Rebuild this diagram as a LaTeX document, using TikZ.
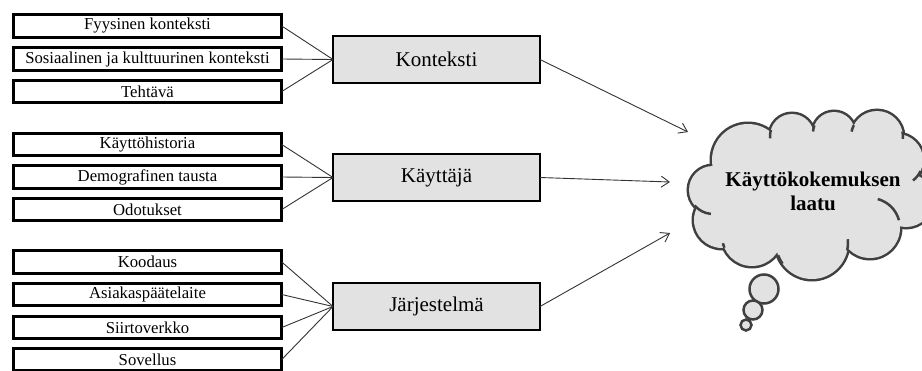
\documentclass[tikz,border=0pt]{standalone}
\usepackage{fontspec}
\setmainfont{Liberation Serif}
\usetikzlibrary{arrows.meta}
\definecolor{boxgrey}{HTML}{E2E2E2}
\definecolor{cloudgrey}{HTML}{E2E2E2}
\definecolor{cloudline}{HTML}{404040}
\definecolor{linkgrey}{HTML}{333333}
\begin{document}
\begin{tikzpicture}[x=1pt,y=-1pt,
  factor/.style={draw=black, line width=2.8pt, fill=white, minimum width=268.5pt,
    minimum height=22.5pt, inner sep=0pt, outer sep=0pt,
    font=\fontsize{16.7}{18}\selectfont},
  groupbox/.style={draw=black, line width=2.8pt, fill=boxgrey, minimum width=207pt,
    minimum height=47pt, inner sep=0pt, outer sep=0pt,
    font=\fontsize{21}{24}\selectfont},
  link/.style={draw=linkgrey, line width=0.9pt},
  flow/.style={draw=linkgrey, line width=0.9pt, -{Straight Barb[length=8pt,width=11pt]}},
  puffline/.style={draw=cloudline, line width=5pt},
  ink/.style={draw=cloudline, line width=2.5pt},
  bubble/.style={draw=cloudline, line width=2.5pt, fill=cloudgrey}
]
\useasboundingbox (0,0) rectangle (922,370);
\clip (0,0) rectangle (922,370);

% factor boxes, context group
\node[factor] (f1) at (147.5,26)   {Fyysinen konteksti};
\node[factor] (f2) at (147.5,59)   {Sosiaalinen ja kulttuurinen konteksti};
\node[factor] (f3) at (147.5,91.5) {Tehtävä};
% factor boxes, user group
\node[factor] (u1) at (147.5,144.5) {Käyttöhistoria};
\node[factor] (u2) at (147.5,177)   {Demografinen tausta};
\node[factor] (u3) at (147.5,209.5) {Odotukset};
% factor boxes, system group
\node[factor] (s1) at (147.5,262)   {Koodaus};
\node[factor] (s2) at (147.5,294.5) {Asiakaspäätelaite};
\node[factor] (s3) at (147.5,327.5) {Siirtoverkko};
\node[factor] (s4) at (147.5,359.5) {Sovellus};

% group boxes
\node[groupbox] (k)  at (436.5,59.5)  {Konteksti};
\node[groupbox] (kj) at (436.5,177.5) {Käyttäjä};
\node[groupbox] (j)  at (436.5,306.5) {Järjestelmä};

% factors to groups
\foreach \a in {f1,f2,f3} \draw[link] (\a.east) -- (k.west);
\foreach \a in {u1,u2,u3} \draw[link] (\a.east) -- (kj.west);
\foreach \a in {s1,s2,s3,s4} \draw[link] (\a.east) -- (j.west);

% thought cloud: stroke all puffs, then cover the inner halves with the fill
\def\puffs{713/190/24, 722/220/28, 752/236/30, 812/243/36, 870/228/30,
  906/200/27, 897/160/26, 877/137/26, 834/133/21, 792/136/22, 748/160/36}
\foreach \cx/\cy/\r in \puffs \draw[puffline] (\cx,\cy) circle[radius=\r];
\foreach \cx/\cy/\r in \puffs \fill[cloudgrey] (\cx,\cy) circle[radius=\r];
\fill[cloudgrey] (713,190) -- (722,220) -- (752,236) -- (812,243) -- (870,228)
  -- (906,200) -- (897,160) -- (877,137) -- (834,133) -- (792,136) -- (748,160) -- cycle;
% inner folds of the cloud
\draw[ink] (713,190) ++(140:24) arc[start angle=140, end angle=95, radius=24];
\draw[ink] (870,228) ++(-75:30) arc[start angle=-75, end angle=-15, radius=30];
\draw[ink] (897,160) ++(52:26) arc[start angle=52, end angle=25, radius=26];
\draw[ink] (792,136) ++(196:22) arc[start angle=196, end angle=174, radius=22];
\draw[ink] (834,133) ++(201:21) arc[start angle=201, end angle=184, radius=21];
\draw[ink] (877,137) ++(207:26) arc[start angle=207, end angle=192, radius=26];
\draw[ink] (877,137) ++(-12:26) arc[start angle=-12, end angle=4, radius=26];
\draw[ink] (812,243) ++(12:36) arc[start angle=12, end angle=-6, radius=36];
\draw[ink] (812,243) ++(145:36) arc[start angle=145, end angle=160, radius=36];
\draw[ink] (752,236) ++(157:30) arc[start angle=157, end angle=166, radius=30];
% trailing bubbles
\draw[bubble] (764,289) circle[radius=14.5];
\draw[bubble] (753,310) circle[radius=9.5];
\draw[bubble] (746,325) circle[radius=5.5];

\node[font=\fontsize{21}{24}\selectfont\bfseries, align=center] (q) at (813,191)
  {Käyttökokemuksen\\laatu};

% groups to the experienced quality
\coordinate (tk) at (688,132);
\coordinate (tu) at (670,182);
\coordinate (tj) at (670,233);
\draw[flow] (k.east) -- (tk);
\draw[flow] (kj.east) -- (tu);
\draw[flow] (j.east) -- (tj);
\end{tikzpicture}
\end{document}
